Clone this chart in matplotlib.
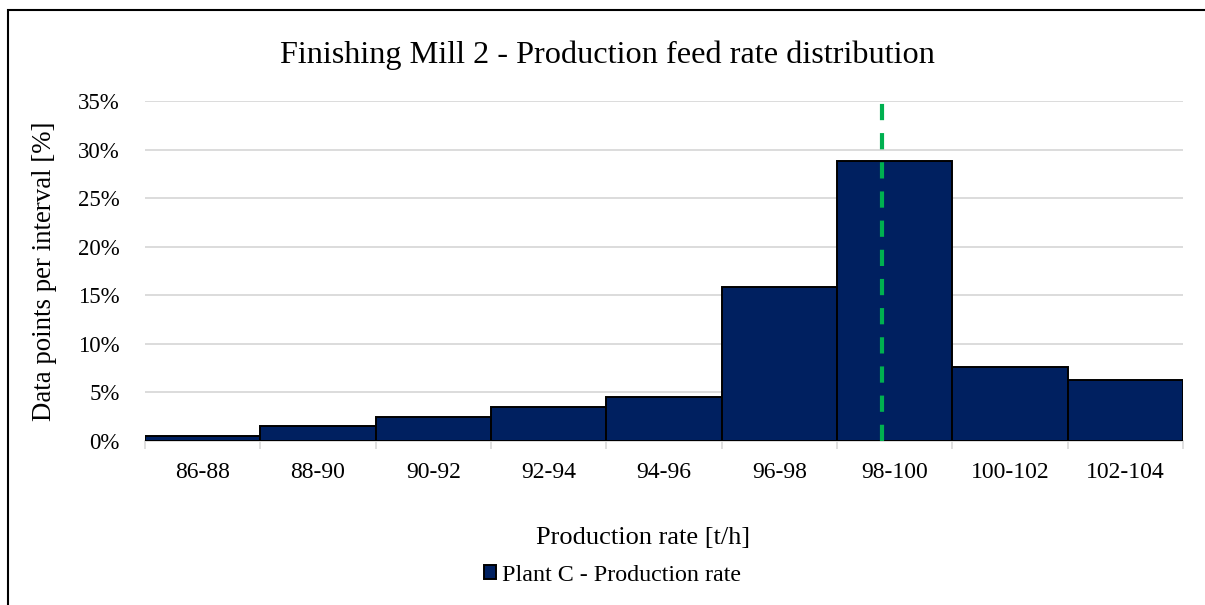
import matplotlib.pyplot as plt
from matplotlib.patches import Rectangle
from matplotlib.ticker import PercentFormatter

plt.rcParams['font.family'] = ['Liberation Serif', 'DejaVu Serif']

# histogram of feed rate, share of data points per 2 t/h interval
intervals = ["86-88", "88-90", "90-92", "92-94", "94-96", "96-98", "98-100", "100-102", "102-104"]
share = [0.5, 1.5, 2.5, 3.5, 4.5, 15.9, 28.8, 7.6, 6.3]
mean_rate = 98.78   # green dashed marker
first_edge = 86
bin_width = 2

fig = plt.figure(figsize=(12.05, 6.05), dpi=100)
ax = fig.add_axes([0.1203, 0.2711, 0.8614, 0.562])

pos = list(range(len(intervals)))
ax.bar(pos, share, width=1.0, color="#002060", edgecolor="black", linewidth=1.4,
       label="Plant C - Production rate", zorder=3)

mean_pos = (mean_rate - first_edge) / bin_width - 0.5
ax.plot([mean_pos, mean_pos], [0, 35], color="#00B050", lw=3, dashes=(3.9, 3.1), zorder=4)

ax.set_xlim(-0.5, len(intervals) - 0.5)
ax.set_ylim(0, 35)
ax.set_yticks(range(0, 36, 5))
ax.yaxis.set_major_formatter(PercentFormatter(decimals=0))
ax.set_xticks([p - 0.5 for p in pos] + [len(pos) - 0.5])
ax.set_xticklabels([])
ax.set_xticks(pos, minor=True)
ax.set_xticklabels(intervals, minor=True)
ax.tick_params(axis="x", which="major", length=6, color="#d9d9d9", width=1.2)
ax.tick_params(axis="x", which="minor", length=0, pad=15, labelsize=17)
ax.tick_params(axis="y", length=0, pad=18, labelsize=16.5)

ax.grid(axis="y", color="#d9d9d9", lw=1.3, zorder=0)
for s in ["top", "right", "left"]:
    ax.spines[s].set_visible(False)
ax.spines["bottom"].set_color("#d9d9d9")
ax.spines["bottom"].set_linewidth(1.3)

# title and x label sit centred on the whole chart area, not the plot box
ax.set_title("Finishing Mill 2 - Production feed rate distribution", fontsize=23.2, pad=27, x=0.446)
ax.set_ylabel("Data points per interval [%]", fontsize=19.4, labelpad=15)
ax.set_xlabel("Production rate [t/h]", fontsize=19, labelpad=32, x=0.48)

fig.legend(loc="center", bbox_to_anchor=(0.5087, 0.049), frameon=False, fontsize=17.3,
           handlelength=0.5, handleheight=0.5, handletextpad=0.25)

# chart border, only left and top edges fall inside the image
fig.patches.append(Rectangle((8 / 1205, -0.1), 1.2, 1 - 10 / 605 + 0.1, transform=fig.transFigure,
                             fill=False, edgecolor="black", lw=1.5))

fig.savefig("out.png", dpi=100)
